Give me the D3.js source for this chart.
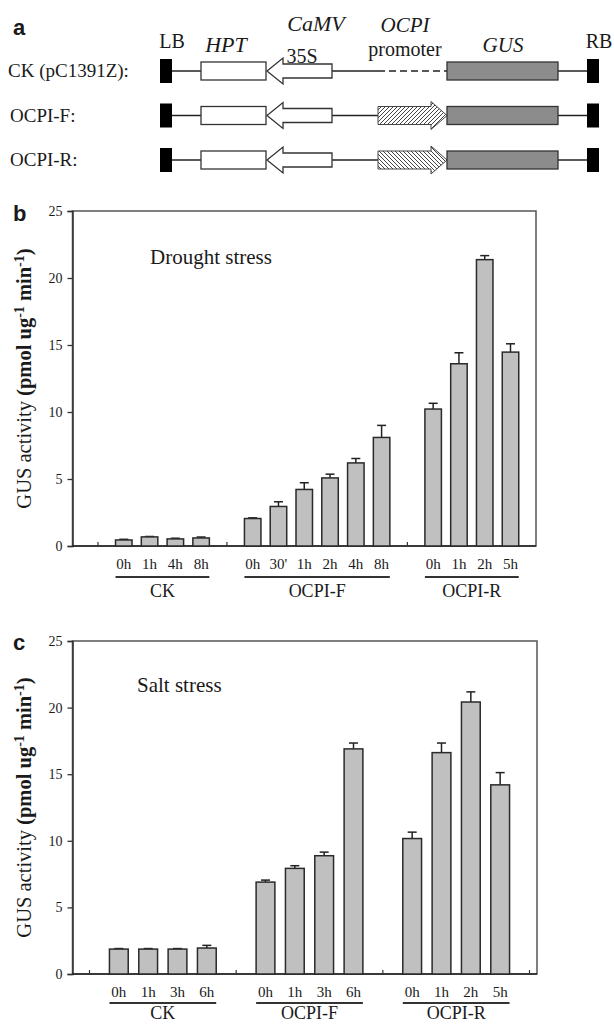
<!DOCTYPE html>
<html><head><meta charset="utf-8">
<script src="https://cdn.jsdelivr.net/npm/d3@7"></script>
<style>
html,body{margin:0;padding:0;background:#fff;}
svg{display:block;}
text{font-family:"Liberation Serif","Times New Roman",serif;fill:#1a1a1a;}
</style></head><body>
<script>
// ---------- DATA ----------
const groups = ["CK", "OCPI-F", "OCPI-R"];
const yTicks = [0, 5, 10, 15, 20, 25];

// Panel b : drought stress
const droughtTimes = [["0h","1h","4h","8h"], ["0h","30'","1h","2h","4h","8h"], ["0h","1h","2h","5h"]];
const droughtMeans = [[0.45,0.68,0.53,0.6], [2.05,2.95,4.22,5.08,6.2,8.1], [10.22,13.6,21.37,14.47]];
const droughtErrs  = [[0.05,0.03,0.05,0.07], [0.05,0.35,0.5,0.28,0.33,0.9], [0.43,0.82,0.3,0.62]];

// Panel c : salt stress
const saltTimes = [["0h","1h","3h","6h"], ["0h","1h","3h","6h"], ["0h","1h","2h","5h"]];
const saltMeans = [[1.87,1.87,1.87,1.95], [6.9,7.93,8.88,16.9], [10.17,16.62,20.42,14.2]];
const saltErrs  = [[0.04,0.04,0.04,0.2], [0.15,0.2,0.27,0.44], [0.48,0.72,0.76,0.92]];

// Panel a : constructs
const constructs = ["CK (pC1391Z):", "OCPI-F:", "OCPI-R:"];
const promoterType = ["none", "forward", "reverse"];

// ---------- SVG ----------
const svg = d3.select("body").append("svg").attr("width", 614).attr("height", 1024);
const defs = svg.append("defs");
function hatch(id, d) {
  const p = defs.append("pattern").attr("id", id).attr("patternUnits", "userSpaceOnUse")
    .attr("width", 4).attr("height", 4);
  p.append("rect").attr("width", 4).attr("height", 4).attr("fill", "#fff");
  p.append("path").attr("d", d).attr("stroke", "#444").attr("stroke-width", 1);
}
hatch("hatchF", "M0,4 L4,0 M-1,1 L1,-1 M3,5 L5,3");
hatch("hatchR", "M0,0 L4,4 M-1,3 L1,5 M3,-1 L5,1");

// ---------- PANEL A ----------
const A = svg.append("g");
A.append("text").text("a").attr("x", 13).attr("y", 35)
  .style("font-family", "Liberation Sans, Arial, sans-serif").style("font-weight", "bold").style("font-size", "22px");

const topLabels = [
  {t:"LB", x:172, y:48, it:false, s:20},
  {t:"HPT", x:226, y:52, it:true, s:22},
  {t:"CaMV", x:316, y:31, it:true, s:22},
  {t:"35S", x:302, y:63, it:false, s:20},
  {t:"OCPI", x:405, y:32, it:true, s:21},
  {t:"promoter", x:405, y:56, it:false, s:20},
  {t:"GUS", x:503, y:52, it:true, s:21},
  {t:"RB", x:599, y:48, it:false, s:20}
];
A.selectAll("text.top").data(topLabels).join("text").attr("class","top")
  .attr("x", d=>d.x).attr("y", d=>d.y).attr("text-anchor","middle")
  .style("font-size", d=>d.s+"px").style("font-style", d=>d.it?"italic":"normal").text(d=>d.t);

const rowY = d3.scalePoint().domain(constructs).range([71, 160]);
constructs.forEach((name, i) => {
  const cy = rowY(name);
  const g = A.append("g");
  g.append("text").text(name).attr("x", i===0 ? 8 : 10).attr("y", cy+6).style("font-size","19px");
  const line = (x1,x2,dash) => g.append("line").attr("x1",x1).attr("x2",x2).attr("y1",cy).attr("y2",cy)
     .attr("stroke","#222").attr("stroke-width",1.5).attr("stroke-dasharray", dash||null);
  line(172,201); line(332,378); line(558,587);
  g.append("rect").attr("x",160).attr("y",cy-12).attr("width",12).attr("height",24).attr("fill","#000");
  g.append("rect").attr("x",587).attr("y",cy-12).attr("width",12).attr("height",24).attr("fill","#000");
  g.append("rect").attr("x",201).attr("y",cy-9).attr("width",65).attr("height",18)
    .attr("fill","#fff").attr("stroke","#333").attr("stroke-width",1.3);
  g.append("path").attr("d", `M267,${cy} L283,${cy-13} L283,${cy-7} L332,${cy-7} L332,${cy+7} L283,${cy+7} L283,${cy+13} Z`)
    .attr("fill","#fff").attr("stroke","#333").attr("stroke-width",1.3);
  if (promoterType[i] === "none") {
    line(378,447,"7,4");
  } else {
    g.append("path").attr("d", `M378,${cy-9} L431,${cy-9} L431,${cy-14} L447,${cy} L431,${cy+14} L431,${cy+9} L378,${cy+9} Z`)
      .attr("fill", promoterType[i]==="forward" ? "url(#hatchF)" : "url(#hatchR)")
      .attr("stroke","#444").attr("stroke-width",1);
  }
  g.append("rect").attr("x",447).attr("y",cy-9).attr("width",111).attr("height",18)
    .attr("fill","#8c8c8c").attr("stroke","#333").attr("stroke-width",1.3);
});

// ---------- BAR PANELS ----------
function panel(cfg) {
  const {letter, title, times, means, errs, top, bottom, left, right, xRange, trailingGap,
         titleX, titleY, letterY, ulOff, glOff} = cfg;
  const g = svg.append("g");
  const keys = [], bars = [], gapKeys = [];
  groups.forEach((grp, gi) => {
    const gk = "gap" + gi; keys.push(gk); gapKeys.push(gk);
    times[gi].forEach((t, ti) => {
      const k = grp + "|" + t + "|" + ti; keys.push(k);
      bars.push({key:k, group:grp, gi, time:t, v:means[gi][ti], e:errs[gi][ti]});
    });
  });
  if (trailingGap) { keys.push("gapEnd"); gapKeys.push("gapEnd"); }
  const x = d3.scalePoint().domain(keys).range(xRange);
  const y = d3.scaleLinear().domain([0, 25]).range([bottom, top]);
  const bw = x.step() * 0.64;

  g.append("rect").attr("x", left).attr("y", top).attr("width", right-left).attr("height", bottom-top)
    .attr("fill","none").attr("stroke","#555").attr("stroke-width",1.5);

  const ya = g.append("g").attr("transform", `translate(${left},0)`)
    .call(d3.axisLeft(y).tickValues(yTicks).tickSize(5).tickPadding(5));
  ya.select(".domain").attr("stroke","#333").attr("stroke-width",1.5);
  ya.selectAll(".tick line").attr("stroke","#333").attr("stroke-width",1.3);
  ya.selectAll(".tick text").style("font-family","Liberation Serif, serif").style("font-size","14px").attr("fill","#222");

  g.append("line").attr("x1",left).attr("x2",right).attr("y1",bottom).attr("y2",bottom)
    .attr("stroke","#222").attr("stroke-width",1.6);
  g.selectAll("line.gt").data(gapKeys).join("line").attr("class","gt")
    .attr("x1", d=>x(d)).attr("x2", d=>x(d)).attr("y1", bottom).attr("y2", bottom-4)
    .attr("stroke","#333").attr("stroke-width",1.2);

  const eb = g.selectAll("g.eb").data(bars).join("g").attr("class","eb");
  eb.append("line").attr("x1", d=>x(d.key)).attr("x2", d=>x(d.key))
    .attr("y1", d=>y(d.v)).attr("y2", d=>y(d.v+d.e)).attr("stroke","#222").attr("stroke-width",1.5);
  eb.append("line").attr("x1", d=>x(d.key)-4.5).attr("x2", d=>x(d.key)+4.5)
    .attr("y1", d=>y(d.v+d.e)).attr("y2", d=>y(d.v+d.e)).attr("stroke","#222").attr("stroke-width",1.5);

  g.selectAll("rect.bar").data(bars).join("rect").attr("class","bar")
    .attr("x", d=>x(d.key)-bw/2).attr("width", bw)
    .attr("y", d=>y(d.v)).attr("height", d=>y(0)-y(d.v))
    .attr("fill","#c0c0c0").attr("stroke","#2a2a2a").attr("stroke-width",1.5);

  g.selectAll("text.cat").data(bars).join("text").attr("class","cat")
    .attr("x", d=>x(d.key)).attr("y", bottom+23).attr("text-anchor","middle")
    .style("font-size","15px").text(d=>d.time);

  groups.forEach((grp, gi) => {
    const gb = bars.filter(b=>b.gi===gi);
    const x1 = x(gb[0].key)-bw/2, x2 = x(gb[gb.length-1].key)+bw/2;
    g.append("line").attr("x1",x1).attr("x2",x2).attr("y1",bottom+ulOff).attr("y2",bottom+ulOff)
      .attr("stroke","#333").attr("stroke-width",2);
    g.append("text").attr("x",(x1+x2)/2).attr("y",bottom+glOff).attr("text-anchor","middle")
      .style("font-size","18px").text(grp);
  });

  g.append("text").attr("x", titleX).attr("y", titleY).style("font-size","21px").text(title);
  g.append("text").text(letter).attr("x", 13).attr("y", letterY)
    .style("font-family","Liberation Sans, Arial, sans-serif").style("font-weight","bold").style("font-size","22px");
  const yl = g.append("text").attr("transform", `translate(31,${(top+bottom)/2}) rotate(-90)`)
    .attr("text-anchor","middle").style("font-size","20.5px");
  yl.append("tspan").text("GUS activity ");
  const b2 = yl.append("tspan").style("font-weight","bold");
  b2.append("tspan").text("(pmol ug");
  b2.append("tspan").attr("dy","-7").style("font-size","14px").text("-1");
  b2.append("tspan").attr("dy","7").text(" min");
  b2.append("tspan").attr("dy","-7").style("font-size","14px").text("-1");
  b2.append("tspan").attr("dy","7").text(")");
}

panel({letter:"b", title:"Drought stress", times:droughtTimes, means:droughtMeans, errs:droughtErrs,
  top:211, bottom:546, left:72.5, right:536, xRange:[98, 510.5], trailingGap:false,
  titleX:150, titleY:264, letterY:221, ulOff:31, glOff:51});
panel({letter:"c", title:"Salt stress", times:saltTimes, means:saltMeans, errs:saltErrs,
  top:641, bottom:974, left:72.5, right:537, xRange:[89.5, 529.5], trailingGap:true,
  titleX:137, titleY:692, letterY:650, ulOff:29, glOff:45});
</script>
</body></html>
